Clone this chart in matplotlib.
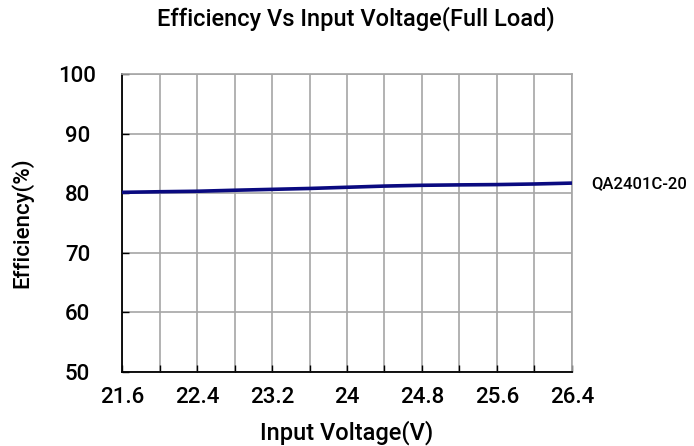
import matplotlib.pyplot as plt
import numpy as np

# ─── Data ─────────────────────────────────────────────────────────────────────
voltage    = [21.6, 22.0, 22.4, 22.8, 23.2, 23.6, 24.0, 24.4, 24.8, 25.2, 25.6, 26.0, 26.4]
efficiency = [80.15, 80.25, 80.33, 80.5, 80.65, 80.8, 81.0, 81.2, 81.33, 81.4, 81.45, 81.55, 81.7]
x_ticks    = [21.6, 22.4, 23.2, 24.0, 24.8, 25.6, 26.4]
x_labels   = ["21.6", "22.4", "23.2", "24", "24.8", "25.6", "26.4"]
y_ticks    = [50, 60, 70, 80, 90, 100]
series     = "QA2401C-20"

NAVY, GRID = "#0a0a80", "#a6a6a6"
plt.rcParams["font.family"] = ["Roboto", "DejaVu Sans"]
plt.rcParams["font.weight"] = "medium"
plt.rcParams["axes.labelweight"] = "medium"
plt.rcParams["figure.titleweight"] = "medium"

fig = plt.figure(figsize=(6.94, 4.46), dpi=100)
ax = fig.add_axes([0.1758, 0.1659, 0.6484, 0.6681])

ax.plot(voltage, efficiency, color=NAVY, lw=2.6, zorder=3)

ax.set_xlim(21.6, 26.4)
ax.set_ylim(50, 100)
ax.set_xticks(x_ticks)
ax.set_xticklabels(x_labels)
ax.set_xticks(np.arange(21.6, 26.41, 0.4), minor=True)
ax.set_yticks(y_ticks)

ax.grid(which="both", axis="x", color=GRID, lw=1.2)
ax.grid(which="major", axis="y", color=GRID, lw=1.2)

for side in ("top", "right"):
    ax.spines[side].set_color(GRID)
    ax.spines[side].set_linewidth(1.2)
for side in ("left", "bottom"):
    ax.spines[side].set_color("black")
    ax.spines[side].set_linewidth(1.3)

ax.tick_params(which="both", direction="in", length=5, width=1, labelsize=16)
ax.tick_params(axis="x", which="both", top=False, pad=11)
ax.tick_params(axis="y", pad=32)
for lab in ax.get_yticklabels():
    lab.set_horizontalalignment("center")

ax.set_xlabel("Input Voltage(V)", fontsize=17, labelpad=9)
ax.set_ylabel("Efficiency(%)", fontsize=16, labelpad=18)
fig.suptitle("Efficiency Vs Input Voltage(Full Load)", x=0.513, y=0.985, fontsize=17)

ax.annotate(series, xy=(1.0, efficiency[-1]), xycoords=("axes fraction", "data"),
            xytext=(14, 0), textcoords="offset points", va="center", fontsize=12)

fig.savefig("out.png", dpi=100)
